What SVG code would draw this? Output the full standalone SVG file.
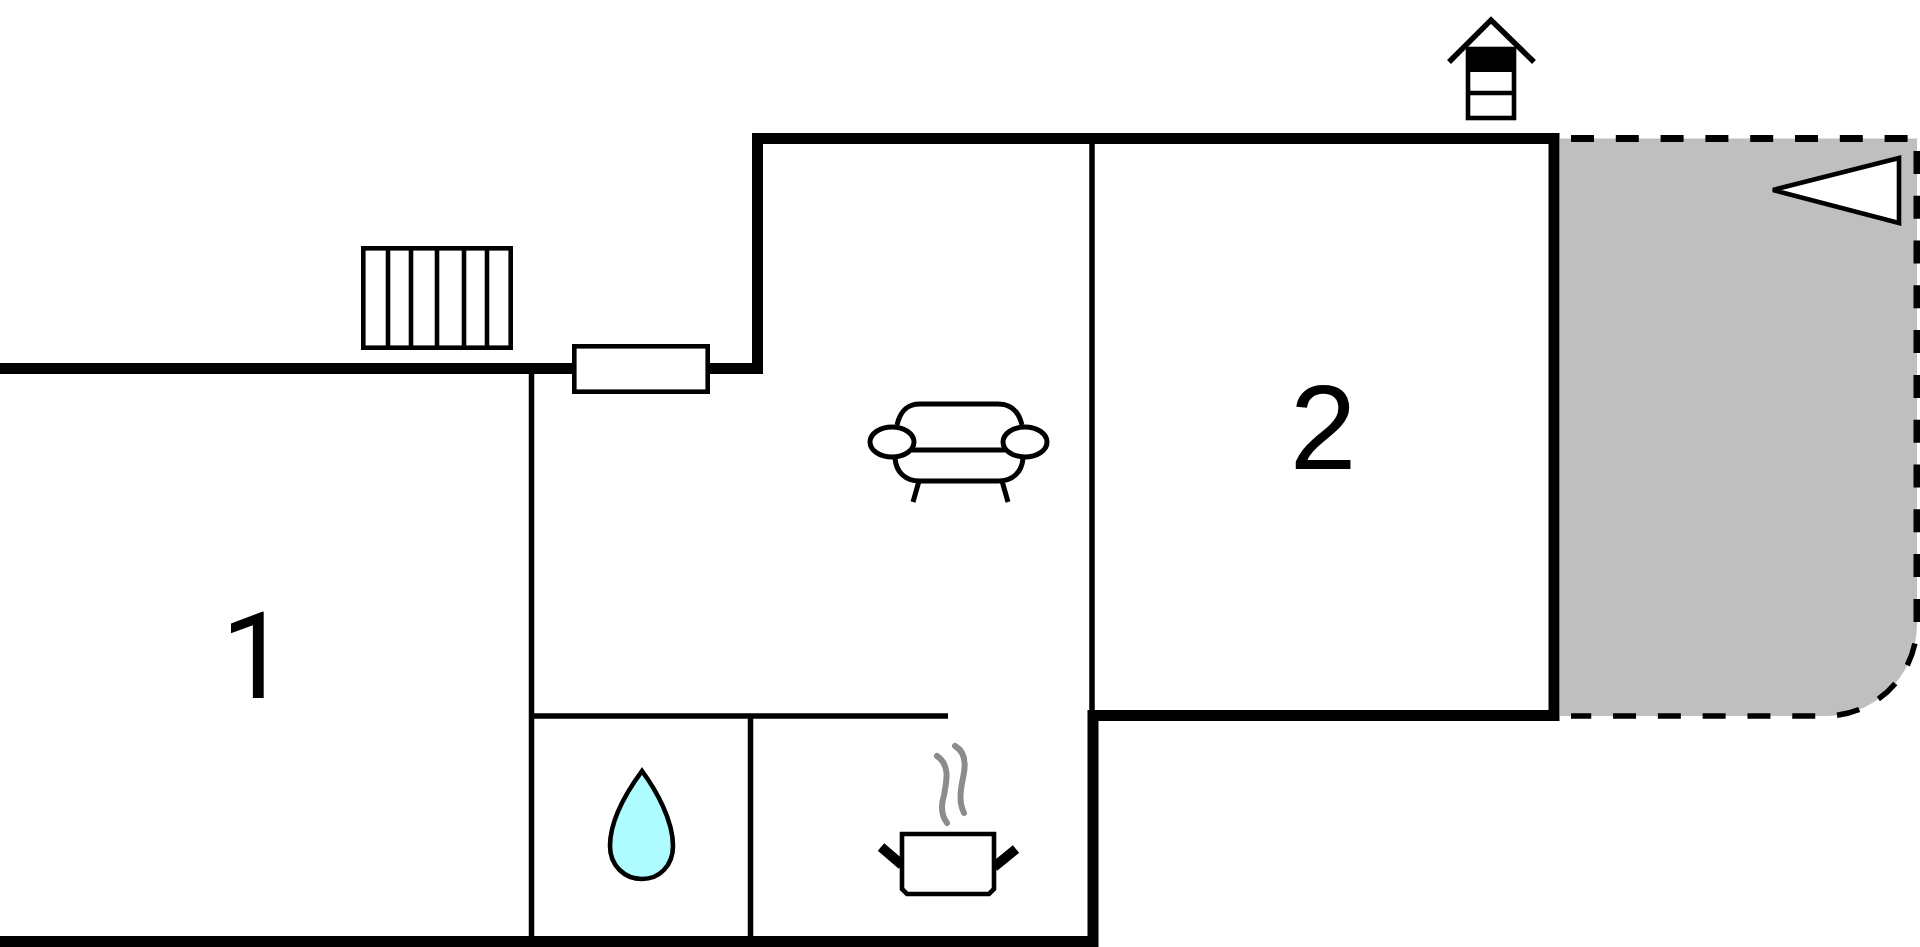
<svg xmlns="http://www.w3.org/2000/svg" width="1920" height="947" viewBox="0 0 1920 947">
<style>
.ln{fill:none;stroke:#000;stroke-width:4.6}
.box{fill:#fff;stroke:#000;stroke-width:4.6}
.wall{fill:none;stroke:#000;stroke-width:11;stroke-linejoin:miter}
.inner{fill:none;stroke:#000;stroke-width:5.5}
.steam{fill:none;stroke:#8c8c8c;stroke-width:6;stroke-linecap:round}
.num{font-size:120px;fill:#000}
#sofa .ln,#sofa .box{stroke-width:5}
</style>
<rect width="1920" height="947" fill="#fff"/>
<g id="terrace">
<path d="M1560 138.5H1917V624A92 92 0 0 1 1821 716H1560Z" fill="#bfbfbf"/>
<path d="M1571 138.5H1917V624" fill="none" stroke="#000" stroke-width="7" stroke-dasharray="23 21.8"/>
<path d="M1917 624A92 92 0 0 1 1821 716H1571" fill="none" stroke="#000" stroke-width="5.5" stroke-dasharray="23 21.8" stroke-dashoffset="25.1"/>
<path id="north-arrow" class="box" d="M1773 190L1899 158V223Z"/>
</g>
<g id="walls">
<path class="wall" d="M0 368.5H757.5V138.5H1554V715.5H1093V941.5H0"/>
<path class="inner" d="M531.5 374V936M531.5 716H948M750.5 716V936M1092 144V710"/>
</g>
<g id="radiator">
<rect class="box" x="363.3" y="248.3" width="147.4" height="99.4"/>
<path class="ln" d="M388 248V348M411 248V348M437 248V348M464 248V348M487 248V348"/>
</g>
<rect id="window" class="box" x="574.3" y="346.3" width="133.4" height="45.4"/>
<g id="well">
<path d="M1449 62L1491 20L1534 62" fill="none" stroke="#000" stroke-width="5.5"/>
<rect class="box" x="1468" y="49" width="46" height="69"/>
<rect x="1466" y="47" width="50" height="25" fill="#000"/>
<path class="ln" d="M1468 93H1514"/>
</g>
<g id="sofa">
<path class="ln" d="M897 425C900 412 906 404 920 404H998C1012 404 1019 412 1022 425"/>
<path class="ln" d="M895 458C896 472 905 481 920 481H998C1013 481 1022 472 1023 458"/>
<path class="ln" d="M912 450H1005M919 481L913 502M1002 481L1008 502"/>
<ellipse class="box" cx="892" cy="442" rx="22" ry="15"/>
<ellipse class="box" cx="1025" cy="442" rx="22" ry="15"/>
</g>
<path id="drop" d="M642 771C628 790 610 820 610 846C610 866 625 879 642 879C659 879 673 866 673 846C673 820 656 790 642 771Z" fill="#aefcff" stroke="#000" stroke-width="4.6"/>
<g id="pot">
<path class="steam" d="M937 756C950 765 947 780 944 795C941 805 941 815 947 823"/>
<path class="steam" d="M955 746C966 752 966 765 963 778C960 792 959 803 964 813"/>
<path d="M881 847L902 865M1016 849L994 867" fill="none" stroke="#000" stroke-width="10"/>
<path class="box" d="M902 834H994V889L989 894H907L902 889Z"/>
</g>
<text id="room-1" class="num" x="221" y="698" font-family="Roboto,sans-serif">1</text>
<text id="room-2" class="num" x="1323" y="469" text-anchor="middle" font-family="'Liberation Sans',sans-serif">2</text>
</svg>
